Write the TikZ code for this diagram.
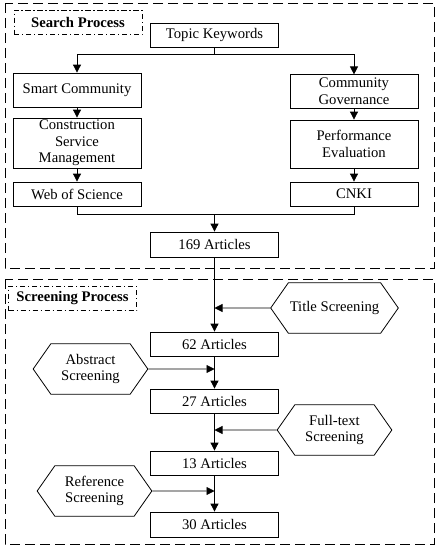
\documentclass[tikz,border=0pt]{standalone}
\usepackage{fontspec}
\setmainfont{Liberation Serif}
\usetikzlibrary{arrows.meta, positioning, shapes.symbols}

\begin{document}
\begin{tikzpicture}[x=0.75pt, y=-0.75pt, line width=0.6pt,
  font=\fontsize{11}{12.5}\selectfont,
  box/.style={draw, rectangle, minimum width=96pt, minimum height=18pt, inner sep=1pt, align=center},
  hexa/.style={draw, signal, signal to=east and west, signal pointer angle=110, minimum width=86pt, minimum height=38pt, inner sep=1pt, align=center},
  tag/.style={draw, dash pattern=on 4pt off 2pt on 1pt off 2pt, minimum width=96pt, minimum height=18.5pt, inner sep=1pt, font=\fontsize{11}{12}\selectfont\bfseries},
  frame/.style={draw, dash pattern=on 7.5pt off 3.75pt},
  arr/.style={-{Triangle[length=6pt, width=6pt]}}]
  \useasboundingbox (0,0) rectangle (439,550);

  % Search Process
  \draw[frame] (5,3) rectangle (434,268);
  \node[tag] (searchtag) at (78,22.5) {Search Process};
  \node[box] (topic) at (214.5,35) {Topic Keywords};
  \node[box, minimum height=25.5pt] (smart) at (77,90) {Smart Community};
  \node[box, minimum height=37.5pt] (constr) at (77,143) {Construction\\Service\\Management};
  \node[box] (wos) at (77,194) {Web of Science};
  \node[box, minimum height=25pt] (gov) at (354,91.5) {Community\\Governance};
  \node[box, minimum height=36pt] (perf) at (354,144) {Performance\\Evaluation};
  \node[box] (cnki) at (354,194) {CNKI};
  \node[box, minimum height=18.75pt] (a169) at (214.5,244.5) {169 Articles};
  \coordinate (split) at (214.5,54);
  \coordinate (merge) at (214.5,214);
  \draw (topic) -- (split);
  \draw[arr] (split) -| (smart);
  \draw[arr] (split) -| (gov);
  \draw[arr] (smart) -- (constr);
  \draw[arr] (constr) -- (wos);
  \draw[arr] (gov) -- (perf);
  \draw[arr] (perf) -- (cnki);
  \draw (wos) |- (merge);
  \draw (cnki) |- (merge);
  \draw[arr] (merge) -- (a169);

  % Screening Process
  \draw[frame] (5,279) rectangle (434,544);
  \node[tag] (screentag) at (72.5,298.5) {Screening Process};
  \node[box] (a62) at (214.5,344) {62 Articles};
  \node[box] (a27) at (214.5,401) {27 Articles};
  \node[box] (a13) at (214.5,463) {13 Articles};
  \node[box, minimum height=18.75pt] (a30) at (214.5,524.5) {30 Articles};
  \node[hexa] (title) at (334.5,308) {Title Screening};
  \node[hexa] (abstract) at (90.5,369) {Abstract\\Screening};
  \node[hexa] (fulltext) at (334.5,430) {Full-text\\Screening};
  \node[hexa] (reference) at (94.5,491) {Reference\\Screening};
  \draw[arr] (a169) -- (a62);
  \draw[arr] (a62) -- (a27);
  \draw[arr] (a27) -- (a13);
  \draw[arr] (a13) -- (a30);
  \draw[arr] (title) -- (title -| a62);
  \draw[arr] (abstract) -- (abstract -| a62);
  \draw[arr] (fulltext) -- (fulltext -| a62);
  \draw[arr] (reference) -- (reference -| a62);
\end{tikzpicture}
\end{document}
